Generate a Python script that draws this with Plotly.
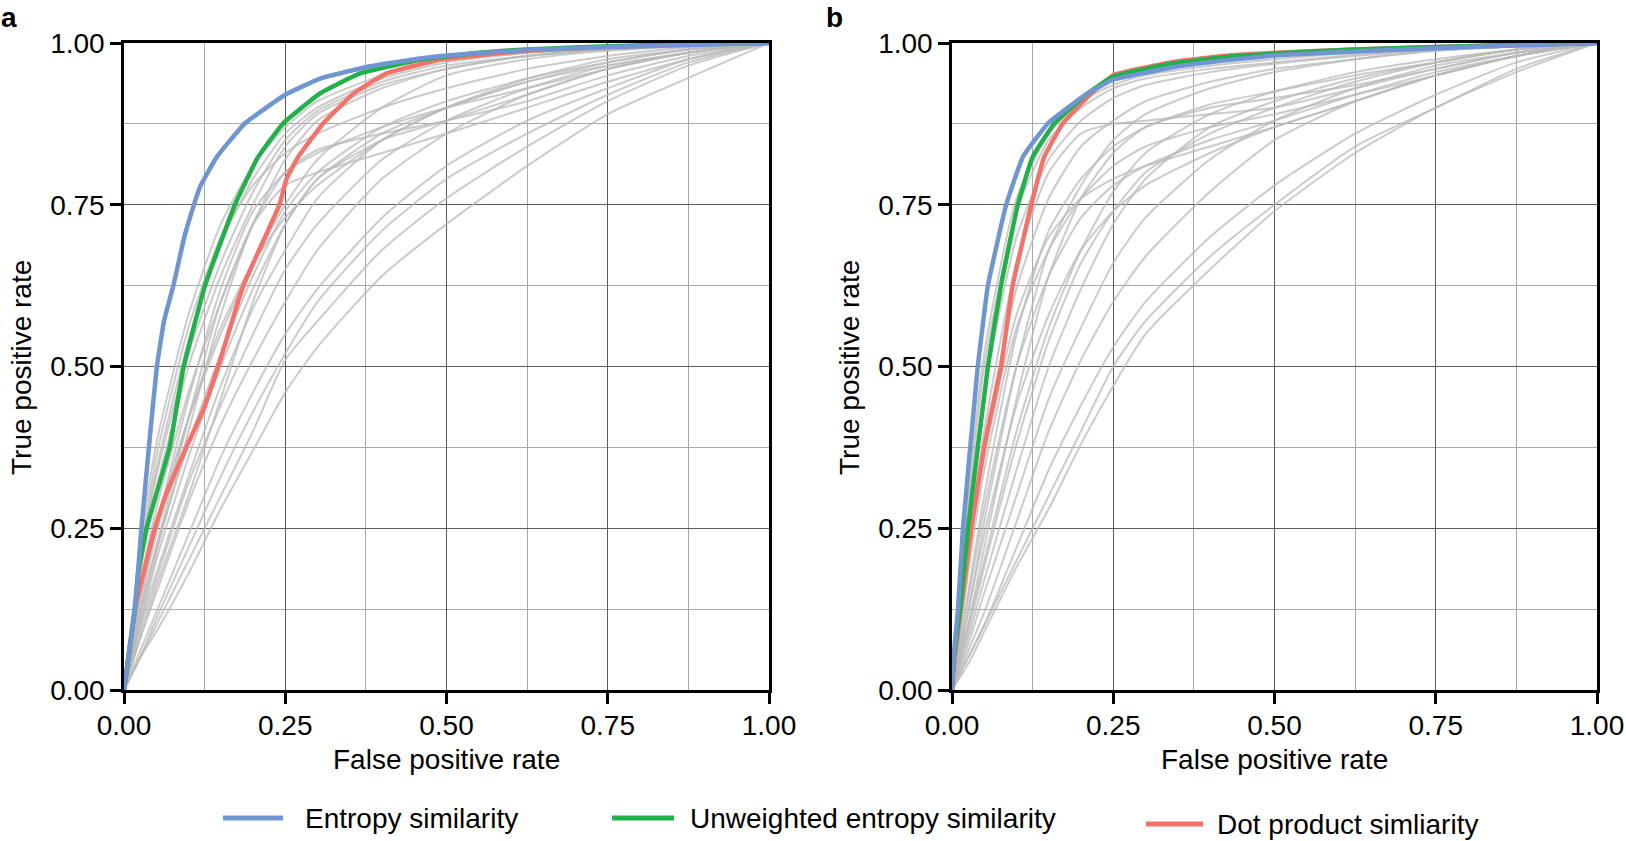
import plotly.graph_objects as go

# ---------------- data ----------------
TICK_VALUES = [0, 0.25, 0.5, 0.75, 1.0]
TICK_LABELS = ["0.00", "0.25", "0.50", "0.75", "1.00"]
MINOR_VALUES = [0.125, 0.375, 0.625, 0.875]

X_TITLE = "False positive rate"
Y_TITLE = "True positive rate"
PANEL_LETTERS = ["a", "b"]

SERIES_NAMES = ["Entropy similarity", "Unweighted entropy similarity", "Dot product simliarity"]
SERIES_COLORS = ["#6F95D3", "#22B04B", "#F3736B"]

# panel a coloured curves
A_BLUE_FPR = [0, 0.017, 0.027, 0.04, 0.051, 0.062, 0.0765, 0.0935, 0.1085, 0.118, 0.144, 0.1876, 0.25, 0.304, 0.376, 0.459, 0.505, 0.625, 0.75, 0.875, 1.0]
A_BLUE_TPR = [0, 0.125, 0.25, 0.39, 0.5, 0.57, 0.625, 0.70, 0.75, 0.778, 0.824, 0.876, 0.92, 0.945, 0.963, 0.976, 0.981, 0.989, 0.994, 0.997, 1.0]
A_GREEN_FPR = [0, 0.017, 0.022, 0.035, 0.071, 0.092, 0.1256, 0.172, 0.208, 0.247, 0.304, 0.366, 0.459, 0.55, 0.625, 0.75, 0.875, 1.0]
A_GREEN_TPR = [0, 0.125, 0.18, 0.25, 0.376, 0.497, 0.625, 0.75, 0.824, 0.876, 0.922, 0.953, 0.974, 0.985, 0.99, 0.995, 0.998, 1.0]
A_RED_FPR = [0, 0.017, 0.03, 0.048, 0.066, 0.097, 0.123, 0.146, 0.185, 0.241, 0.252, 0.27, 0.309, 0.356, 0.407, 0.49, 0.625, 0.75, 0.875, 1.0]
A_RED_TPR = [0, 0.125, 0.18, 0.25, 0.304, 0.376, 0.433, 0.5, 0.625, 0.75, 0.79, 0.824, 0.876, 0.922, 0.953, 0.974, 0.988, 0.994, 0.998, 1.0]

# panel b coloured curves
B_BLUE_FPR = [0, 0.002, 0.0093, 0.017, 0.040, 0.0557, 0.084, 0.11, 0.149, 0.21, 0.249, 0.345, 0.432, 0.505, 0.625, 0.75, 0.875, 1.0]
B_BLUE_TPR = [0, 0.046, 0.125, 0.25, 0.5, 0.625, 0.75, 0.824, 0.876, 0.922, 0.943, 0.963, 0.974, 0.981, 0.987, 0.992, 0.996, 1.0]
B_GREEN_FPR = [0, 0.003, 0.0124, 0.0248, 0.0557, 0.076, 0.102, 0.125, 0.159, 0.21, 0.25, 0.345, 0.432, 0.505, 0.625, 0.75, 0.875, 1.0]
B_GREEN_TPR = [0, 0.05, 0.125, 0.25, 0.5, 0.625, 0.75, 0.824, 0.876, 0.922, 0.948, 0.969, 0.979, 0.984, 0.99, 0.994, 0.997, 1.0]
B_RED_FPR = [0, 0.004, 0.014, 0.03, 0.05, 0.076, 0.094, 0.123, 0.143, 0.172, 0.216, 0.25, 0.345, 0.432, 0.505, 0.625, 0.75, 0.875, 1.0]
B_RED_TPR = [0, 0.05, 0.125, 0.25, 0.376, 0.5, 0.625, 0.75, 0.824, 0.876, 0.922, 0.95, 0.971, 0.981, 0.985, 0.99, 0.994, 0.997, 1.0]

# grey curves (other similarity measures), TPR read at these FPR values
GREY_FPR = [0, 0.025, 0.05, 0.1, 0.15, 0.2, 0.25, 0.3, 0.4, 0.5, 0.625, 0.75, 0.875, 1.0]

GREY_A_TPR = [
    [0, .22, .38, .58, .72, .81, .87, .91, .95, .975, .985, .993, .997, 1],
    [0, .20, .34, .54, .69, .79, .86, .90, .945, .97, .985, .992, .997, 1],
    [0, .19, .33, .52, .66, .77, .85, .895, .94, .965, .98, .99, .996, 1],
    [0, .18, .31, .50, .64, .75, .84, .89, .935, .96, .98, .99, .996, 1],
    [0, .20, .36, .56, .70, .78, .83, .86, .90, .93, .96, .98, .993, 1],
    [0, .16, .28, .46, .60, .72, .82, .88, .93, .96, .98, .99, .996, 1],
    [0, .15, .26, .42, .55, .66, .75, .82, .90, .95, .975, .988, .995, 1],
    [0, .12, .22, .38, .52, .64, .74, .80, .87, .91, .945, .97, .99, 1],
    [0, .14, .25, .45, .62, .74, .80, .83, .87, .90, .93, .96, .985, 1],
    [0, .10, .20, .36, .50, .62, .72, .79, .86, .90, .94, .965, .985, 1],
    [0, .10, .18, .33, .47, .59, .68, .76, .85, .90, .94, .97, .99, 1],
    [0, .09, .17, .32, .44, .55, .65, .72, .82, .88, .93, .965, .985, 1],
    [0, .11, .21, .40, .58, .72, .80, .835, .86, .88, .91, .95, .98, 1],
    [0, .08, .15, .29, .41, .51, .60, .68, .79, .86, .92, .96, .985, 1],
    [0, .06, .12, .24, .36, .46, .55, .62, .73, .81, .88, .93, .975, 1],
    [0, .05, .11, .22, .33, .43, .52, .60, .71, .79, .86, .92, .97, 1],
    [0, .05, .10, .20, .30, .40, .51, .57, .68, .76, .84, .91, .965, 1],
    [0, .12, .22, .42, .60, .72, .78, .80, .83, .86, .90, .94, .975, 1],
    [0, .08, .16, .30, .45, .60, .72, .79, .85, .88, .92, .96, .985, 1],
    [0, .13, .24, .42, .56, .66, .73, .78, .85, .90, .945, .975, .99, 1],
    [0, .05, .09, .18, .28, .37, .46, .53, .64, .72, .81, .89, .946, 1],
]

GREY_B_TPR = [
    [0, .30, .52, .76, .86, .91, .935, .95, .965, .975, .985, .992, .997, 1],
    [0, .28, .50, .74, .85, .90, .93, .945, .96, .97, .982, .99, .996, 1],
    [0, .25, .46, .70, .82, .88, .915, .935, .955, .968, .98, .99, .996, 1],
    [0, .20, .38, .62, .76, .84, .88, .91, .94, .96, .975, .988, .995, 1],
    [0, .22, .40, .66, .80, .86, .875, .88, .89, .90, .93, .96, .985, 1],
    [0, .15, .30, .55, .71, .79, .84, .87, .905, .925, .95, .97, .99, 1],
    [0, .12, .26, .50, .68, .78, .85, .89, .93, .955, .975, .988, .995, 1],
    [0, .10, .22, .45, .64, .76, .83, .87, .90, .915, .935, .96, .985, 1],
    [0, .20, .36, .58, .70, .76, .79, .81, .84, .87, .91, .95, .98, 1],
    [0, .10, .20, .40, .56, .68, .77, .83, .89, .925, .955, .975, .99, 1],
    [0, .08, .17, .34, .50, .62, .72, .79, .87, .91, .945, .97, .99, 1],
    [0, .07, .15, .30, .45, .56, .66, .73, .82, .88, .93, .965, .985, 1],
    [0, .14, .28, .50, .64, .73, .78, .81, .85, .88, .92, .955, .98, 1],
    [0, .06, .12, .26, .40, .51, .60, .67, .77, .85, .91, .95, .98, 1],
    [0, .05, .10, .22, .34, .44, .53, .60, .70, .78, .86, .92, .97, 1],
    [0, .05, .10, .20, .30, .40, .50, .57, .67, .75, .84, .90, .96, 1],
    [0, .04, .09, .19, .28, .38, .47, .55, .65, .74, .83, .90, .955, 1],
    [0, .18, .34, .56, .68, .76, .81, .84, .87, .89, .92, .95, .98, 1],
    [0, .12, .24, .44, .58, .68, .74, .78, .83, .87, .91, .95, .98, 1],
    [0, .09, .19, .38, .54, .66, .74, .80, .86, .90, .94, .97, .99, 1],
]

# ---------------- figure ----------------
W, H = 1626, 841
FONT = "Liberation Sans, Arial, Helvetica, sans-serif"
GREY = "rgba(185,185,185,0.75)"

fig = go.Figure()

def add_panel(xa, ya, grey_list, curves):
    for tpr in grey_list:
        fig.add_trace(go.Scatter(x=GREY_FPR, y=tpr, mode="lines", xaxis=xa, yaxis=ya,
                                 line=dict(color=GREY, width=2, shape="spline", smoothing=0.6),
                                 showlegend=False, hoverinfo="skip"))
    for (fx, ty), name, col in curves:
        fig.add_trace(go.Scatter(x=fx, y=ty, mode="lines", xaxis=xa, yaxis=ya, name=name,
                                 line=dict(color=col, width=4.5, shape="spline", smoothing=0.35),
                                 showlegend=False))

add_panel("x", "y", GREY_A_TPR,
          [((A_RED_FPR, A_RED_TPR), SERIES_NAMES[2], SERIES_COLORS[2]),
           ((A_GREEN_FPR, A_GREEN_TPR), SERIES_NAMES[1], SERIES_COLORS[1]),
           ((A_BLUE_FPR, A_BLUE_TPR), SERIES_NAMES[0], SERIES_COLORS[0])])
add_panel("x2", "y2", GREY_B_TPR,
          [((B_RED_FPR, B_RED_TPR), SERIES_NAMES[2], SERIES_COLORS[2]),
           ((B_GREEN_FPR, B_GREEN_TPR), SERIES_NAMES[1], SERIES_COLORS[1]),
           ((B_BLUE_FPR, B_BLUE_TPR), SERIES_NAMES[0], SERIES_COLORS[0])])

def px_x(p):
    return p / W

def px_y(p):
    return 1 - p / H

def axis(domain, anchor, standoff):
    return dict(
        domain=domain, anchor=anchor, range=[0, 1], fixedrange=True, automargin=False,
        tickvals=TICK_VALUES, ticktext=TICK_LABELS,
        showgrid=True, gridcolor="#5c5c5c", gridwidth=1,
        minor=dict(tickvals=MINOR_VALUES, showgrid=True, gridcolor="#a8a8a8", gridwidth=1, ticks=""),
        showline=True, linecolor="black", linewidth=2.5, mirror=True,
        ticks="outside", ticklen=11, tickwidth=2.5, tickcolor="black",
        ticklabelstandoff=standoff,
        tickfont=dict(family=FONT, size=28, color="black"),
        zeroline=False,
    )

XA = [px_x(124), px_x(769)]
XB = [px_x(952), px_x(1597)]
YD = [px_y(690), px_y(43)]

fig.update_layout(
    width=W, height=H, margin=dict(l=0, r=0, t=0, b=0, autoexpand=False),
    paper_bgcolor="white", plot_bgcolor="white",
    font=dict(family=FONT, color="black"),
    xaxis=axis(XA, "y", -2),
    yaxis=axis(YD, "x", 0),
    xaxis2=axis(XB, "y2", -2),
    yaxis2=axis(YD, "x2", 0),
)

TXT = dict(family=FONT, size=28, color="black")

# axis titles
for xd in (XA, XB):
    fig.add_annotation(text=X_TITLE, x=(xd[0] + xd[1]) / 2, y=px_y(759), xref="paper", yref="paper",
                       showarrow=False, xanchor="center", yanchor="middle", font=TXT)
for xd in (XA, XB):
    fig.add_annotation(text=Y_TITLE, x=xd[0] - px_x(103), y=px_y(367), xref="paper", yref="paper",
                       showarrow=False, xanchor="center", yanchor="middle", textangle=-90, font=TXT)

# panel letters
for letter, xp in zip(PANEL_LETTERS, (9, 834)):
    fig.add_annotation(text="<b>%s</b>" % letter, x=px_x(xp), y=px_y(1), xref="paper", yref="paper",
                       showarrow=False, font=dict(family=FONT, size=28, color="black"),
                       xanchor="center", yanchor="top", borderpad=0)

# legend (manual layout)
LEG = [(223, 283, 303, 818), (612, 674, 688, 818), (1146, 1203, 1215, 824)]
for (x0, x1, xt, yp), name, col in zip(LEG, SERIES_NAMES, SERIES_COLORS):
    fig.add_shape(type="line", xref="paper", yref="paper", x0=px_x(x0), x1=px_x(x1),
                  y0=px_y(yp), y1=px_y(yp), line=dict(color=col, width=5))
    fig.add_annotation(text=name, x=px_x(xt), y=px_y(yp), xref="paper", yref="paper",
                       showarrow=False, xanchor="left", yanchor="middle", font=TXT)

fig.write_html("out.html", config={"displayModeBar": False},
               post_script="document.body.style.margin='0px';document.body.style.overflow='hidden';")
